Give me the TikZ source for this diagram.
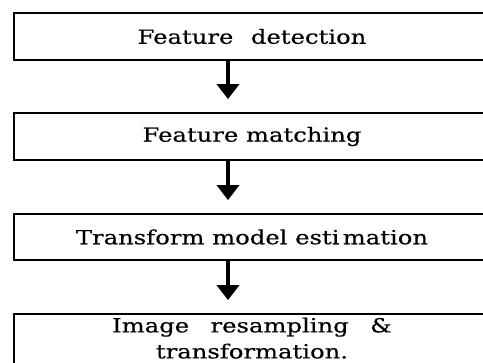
\documentclass[tikz,border=0pt]{standalone}
\usepackage{fontspec}
\setmainfont[FakeStretch=1.245, FakeBold=0.4]{DejaVu Serif}
\usetikzlibrary{arrows.meta}
\begin{document}
\begin{tikzpicture}[x=1pt,y=-1pt,
  stagebox/.style={draw=black, line width=1.8pt, minimum width=476pt,
    inner sep=0pt, align=center, font=\fontsize{19.5}{26}\selectfont},
  flowarrow/.style={line width=4pt,
    -{Triangle[width=22pt,length=15pt]}, shorten >=13pt}]
  \useasboundingbox (0,0) rectangle (483,363);
  \clip (0,0) rectangle (483,363);
  \node[stagebox, minimum height=47pt] (b1) at (252,36.5) {Feature\hspace{0.9em}detection};
  \node[stagebox, minimum height=47pt] (b2) at (252,136.5) {Feature matching};
  \node[stagebox, minimum height=46pt] (b3) at (252,237) {Transform model esti\,mation};
  % last box runs past the lower edge; the extra depth lifts its two lines
  \node[stagebox, minimum height=64pt] (b4) at (252,346)
    {Image\hspace{1.1em}resampling\hspace{1.1em}\&\\transformation.\rule[-16pt]{0pt}{0pt}};
  \draw[flowarrow] ([xshift=-24pt]b1.south) -- ([xshift=-24pt]b2.north);
  \draw[flowarrow] ([xshift=-24pt]b2.south) -- ([xshift=-24pt]b3.north);
  \draw[flowarrow] ([xshift=-24pt]b3.south) -- ([xshift=-24pt]b4.north);
\end{tikzpicture}
\end{document}
